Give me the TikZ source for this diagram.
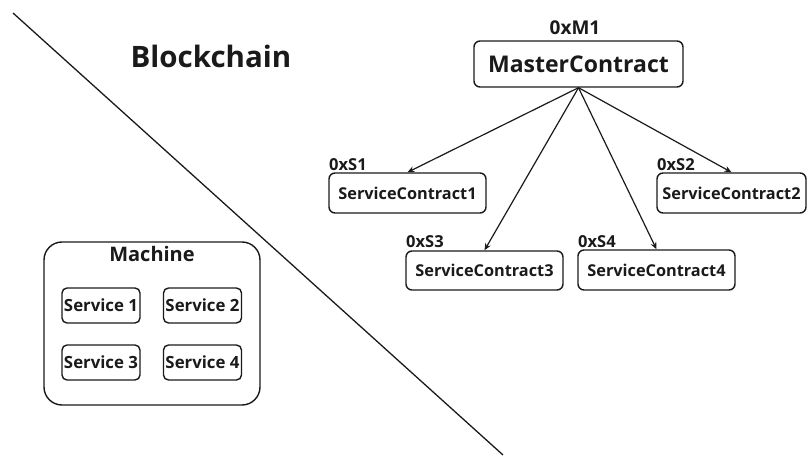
\documentclass[tikz,border=0pt]{standalone}
\usepackage{fontspec}
\setmainfont{Open Sans}
\usetikzlibrary{arrows.meta}
\definecolor{ink}{HTML}{1A1A1A}
\tikzset{
  box/.style={draw=ink, line width=1.4pt, rounded corners=6pt, inner sep=0pt,
    font=\bfseries\fontsize{16.3}{19}\selectfont, text=ink},
  svcbox/.style={box, rounded corners=5pt, minimum width=78pt, minimum height=35pt,
    font=\bfseries\fontsize{16.8}{19}\selectfont},
  contract/.style={box, minimum width=157pt, minimum height=40pt},
  addr/.style={inner sep=0pt, text=ink, font=\bfseries\fontsize{16.5}{19}\selectfont},
  arr/.style={draw=ink, line width=1.2pt, -{Stealth[length=7pt,width=6pt]}},
}
\begin{document}
\begin{tikzpicture}[x=1pt,y=-1pt]
  \useasboundingbox (0,0) rectangle (807,457);

  % dividing line between the two worlds
  \coordinate (divA) at (13,13);
  \coordinate (divB) at (503,455);
  \draw[ink, line width=1.3pt] (divA) -- (divB);

  % blockchain side
  \node[inner sep=0pt, anchor=base, text=ink, font=\bfseries\fontsize{29.5}{33}\selectfont]
    (chain) at (211,68) {Blockchain};

  \node[box, minimum width=209pt, minimum height=46pt,
    font=\bfseries\fontsize{23}{26}\selectfont] (mc) at (578.5,64) {MasterContract};
  \node[addr, anchor=base, font=\bfseries\fontsize{19}{22}\selectfont] (mcaddr) at (575,35) {0xM1};

  \node[contract] (sc1) at (407.5,193) {ServiceContract1};
  \node[contract, minimum width=149pt] (sc2) at (731.5,193) {ServiceContract2};
  \node[contract, minimum height=39pt] (sc3) at (484.5,270.5) {ServiceContract3};
  \node[contract] (sc4) at (656.5,270) {ServiceContract4};

  \node[addr, anchor=base west] (a1) at (329,170.5) {0xS1};
  \node[addr, anchor=base west] (a2) at (657,170.5) {0xS2};
  \node[addr, anchor=base west] (a3) at (406,247.5) {0xS3};
  \node[addr, anchor=base west] (a4) at (578,247.5) {0xS4};

  \draw[arr] (mc.south) -- (sc1.north);
  \draw[arr] (mc.south) -- (sc2.north);
  \draw[arr] (mc.south) -- (sc3.north);
  \draw[arr] (mc.south) -- (sc4.north);

  % machine side
  \node[box, rounded corners=18pt, minimum width=216pt, minimum height=163pt] (machine) at (152,323.5) {};
  \node[inner sep=0pt, anchor=base, text=ink, font=\bfseries\fontsize{20}{23}\selectfont]
    (mtitle) at (152,262) {Machine};

  \node[svcbox] (s1) at (101,305.5) {Service 1};
  \node[svcbox] (s2) at (202.5,305.5) {Service 2};
  \node[svcbox] (s3) at (101,362.5) {Service 3};
  \node[svcbox] (s4) at (202.5,362.5) {Service 4};
\end{tikzpicture}
\end{document}
